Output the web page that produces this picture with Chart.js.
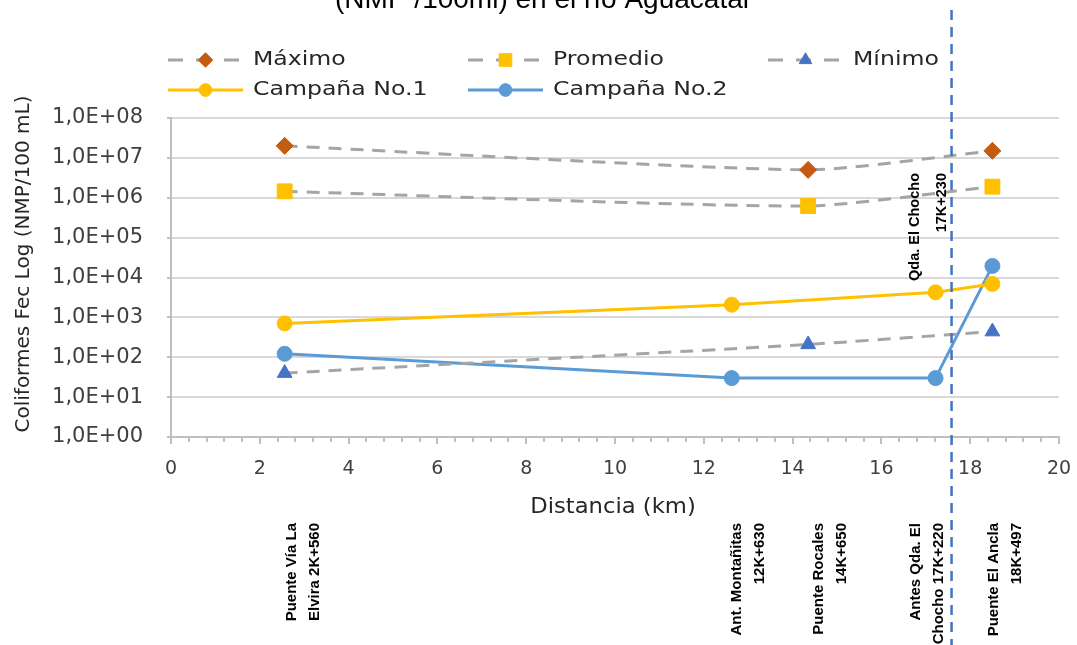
<!DOCTYPE html>
<html>
<head>
<meta charset="utf-8">
<script src="https://cdn.jsdelivr.net/npm/chart.js@4.4.1/dist/chart.umd.min.js"></script>
<style>
  html, body { margin: 0; padding: 0; background: #fff; }
</style>
</head>
<body>
<canvas id="coliChart" width="1077" height="645"></canvas>
<script>
// distancias (km) de cada estación
const campanaKm = [2.56, 12.63, 17.22, 18.5];
const estadisticaKm = [2.56, 14.35, 18.5];

// NMP/100 mL
const maximo = [2.0e7, 5.0e6, 1.5e7];
const promedio = [1.45e6, 6.2e5, 1.9e6];
const minimo = [40, 210, 440];
const campana1 = [706, 2080, 4250, 6900];
const campana2 = [122, 30, 30, 1.95e4];

const yPotencias = [0, 1, 2, 3, 4, 5, 6, 7, 8];

const estaciones = [
  ['Puente Vía La', 'Elvira 2K+560'],
  ['Ant. Montañitas', '12K+630'],
  ['Puente Rocales', '14K+650'],
  ['Antes Qda. El', 'Chocho 17K+220'],
  ['Puente El Ancla', '18K+497']
];
const estacionLabelKm = [2.98, 13.0, 14.86, 17.03, 18.8];

const quebradaKm = 17.58;
const quebradaLabel = ['Qda. El Chocho', '17K+230'];

const titulo = '(NMP /100ml) en el río Aguacatal';

const toPoints = (xs, ys) => xs.map((x, i) => ({ x: x, y: ys[i] }));

const GRIS = '#A5A5A5';
const FONT = '"DejaVu Sans", sans-serif';

const datasets = [
  {
    label: 'Máximo', data: toPoints(estadisticaKm, maximo),
    borderColor: GRIS, borderWidth: 3, borderDash: [13, 9], tension: 0.2,
    pointStyle: 'rectRot', pointRadius: 8.5, pointBackgroundColor: '#C55A11', pointBorderColor: '#C55A11', pointBorderWidth: 1
  },
  {
    label: 'Promedio', data: toPoints(estadisticaKm, promedio),
    borderColor: GRIS, borderWidth: 3, borderDash: [13, 9], tension: 0.2,
    pointStyle: 'rect', pointRadius: 10.5, pointBackgroundColor: '#FFC000', pointBorderColor: '#FFC000', pointBorderWidth: 1
  },
  {
    label: 'Mínimo', data: toPoints(estadisticaKm, minimo),
    borderColor: GRIS, borderWidth: 3, borderDash: [13, 9], tension: 0.2,
    pointStyle: 'triangle', pointRadius: 8.5, pointBackgroundColor: '#4472C4', pointBorderColor: '#4472C4', pointBorderWidth: 1
  },
  {
    label: 'Campaña No.1', data: toPoints(campanaKm, campana1),
    borderColor: '#FFC000', borderWidth: 3, tension: 0,
    pointStyle: 'circle', pointRadius: 7.5, pointBackgroundColor: '#FFC000', pointBorderColor: '#FFC000', pointBorderWidth: 1
  },
  {
    label: 'Campaña No.2', data: toPoints(campanaKm, campana2),
    borderColor: '#5B9BD5', borderWidth: 3, tension: 0,
    pointStyle: 'circle', pointRadius: 7.5, pointBackgroundColor: '#5B9BD5', pointBorderColor: '#5B9BD5', pointBorderWidth: 1
  }
];

function marker(ctx, ds, x, y) {
  ctx.save();
  ctx.setLineDash([]);
  ctx.fillStyle = ds.pointBackgroundColor;
  ctx.strokeStyle = ds.pointBorderColor;
  ctx.lineWidth = 1;
  Chart.helpers.drawPoint(ctx, { pointStyle: ds.pointStyle, radius: ds.pointRadius * 0.85, rotation: 0, borderWidth: 1 }, x, y);
  ctx.restore();
}

// texto con estiramiento horizontal (la fuente original es más ancha)
function wideText(ctx, text, x, y, sx) {
  ctx.save();
  ctx.translate(x, y);
  ctx.scale(sx, 1);
  ctx.fillText(text, 0, 0);
  ctx.restore();
}

const extras = {
  id: 'extras',
  afterDraw(chart) {
    const ctx = chart.ctx;
    const xs = chart.scales.x;
    const area = chart.chartArea;

    // ticks menores del eje x
    ctx.save();
    ctx.strokeStyle = '#BFBFBF';
    ctx.lineWidth = 2;
    for (let k = 1; k < 50; k++) {
      if (k % 5 === 0) continue;
      const px = Math.round(xs.getPixelForValue(k * 0.4));
      ctx.beginPath();
      ctx.moveTo(px, area.bottom);
      ctx.lineTo(px, area.bottom + 5);
      ctx.stroke();
    }
    ctx.restore();

    // línea vertical Qda. El Chocho
    const qx = xs.getPixelForValue(quebradaKm);
    ctx.save();
    ctx.strokeStyle = '#4472C4';
    ctx.lineWidth = 2.5;
    ctx.setLineDash([10, 7]);
    ctx.beginPath();
    ctx.moveTo(qx, 10);
    ctx.lineTo(qx, 645);
    ctx.stroke();
    ctx.restore();

    ctx.save();
    ctx.fillStyle = '#000';
    ctx.font = 'bold 14.5px "Liberation Sans", Arial, sans-serif';
    ctx.textBaseline = 'middle';
    ctx.textAlign = 'right';
    [qx - 37, qx - 10].forEach((lx, i) => {
      ctx.save();
      ctx.translate(lx, 173);
      ctx.rotate(-Math.PI / 2);
      ctx.fillText(quebradaLabel[i], 0, 0);
      ctx.restore();
    });
    ctx.restore();

    // etiquetas de estaciones
    ctx.save();
    ctx.fillStyle = '#000';
    ctx.font = 'bold 15px "Liberation Sans", Arial, sans-serif';
    ctx.textBaseline = 'middle';
    ctx.textAlign = 'right';
    estaciones.forEach((lines, i) => {
      const cx = xs.getPixelForValue(estacionLabelKm[i]);
      lines.forEach((t, j) => {
        ctx.save();
        ctx.translate(cx - 11.5 + j * 23, 523);
        ctx.rotate(-Math.PI / 2);
        ctx.fillText(t, 0, 0);
        ctx.restore();
      });
    });
    ctx.restore();

    // título (cortado arriba)
    ctx.save();
    ctx.fillStyle = '#000';
    ctx.font = '28px "Liberation Sans", Arial, sans-serif';
    ctx.textAlign = 'center';
    ctx.textBaseline = 'alphabetic';
    ctx.fillText(titulo, 542, 8);
    ctx.restore();

    // títulos de ejes
    ctx.save();
    ctx.fillStyle = '#262626';
    ctx.font = '20px ' + FONT;
    ctx.textAlign = 'center';
    ctx.textBaseline = 'middle';
    ctx.translate(24, 264);
    ctx.rotate(-Math.PI / 2);
    ctx.fillText('Coliformes Fec Log (NMP/100 mL)', 0, 0);
    ctx.restore();

    ctx.save();
    ctx.fillStyle = '#262626';
    ctx.font = '21px ' + FONT;
    ctx.textAlign = 'center';
    ctx.textBaseline = 'middle';
    wideText(ctx, 'Distancia (km)', 613, 508, 1.08);
    ctx.restore();

    // leyenda
    chart.data.datasets.forEach((ds, i) => {
      const col = i % 3;
      const row = Math.floor(i / 3);
      const x0 = 168 + col * 300;
      const y0 = 60 + row * 30;
      ctx.save();
      ctx.strokeStyle = ds.borderColor;
      ctx.lineWidth = 3;
      if (ds.borderDash) ctx.setLineDash([15, 13]);
      ctx.beginPath();
      ctx.moveTo(x0, y0);
      ctx.lineTo(x0 + 75, y0);
      ctx.stroke();
      ctx.restore();
      marker(ctx, ds, x0 + 37.5, y0);
      ctx.save();
      ctx.fillStyle = '#262626';
      ctx.font = '20px ' + FONT;
      ctx.textAlign = 'left';
      ctx.textBaseline = 'middle';
      wideText(ctx, ds.label, x0 + 85, y0, 1.18);
      ctx.restore();
    });
  }
};

new Chart(document.getElementById('coliChart').getContext('2d'), {
  type: 'line',
  data: { datasets: datasets },
  options: {
    responsive: false,
    animation: false,
    layout: { padding: { top: 118, left: 0, right: 18, bottom: 0 } },
    plugins: {
      legend: { display: false },
      title: { display: false },
      tooltip: { enabled: false }
    },
    scales: {
      x: {
        type: 'linear',
        min: 0,
        max: 20,
        afterFit: s => { s.height = 208; s.paddingLeft = 0; s.paddingRight = 0; },
        ticks: {
          stepSize: 2,
          maxRotation: 0,
          padding: 14,
          color: '#404040',
          font: { family: FONT, size: 19 }
        },
        grid: { drawOnChartArea: false, tickLength: 7, tickColor: '#BFBFBF', lineWidth: 2 },
        border: { color: '#BFBFBF', width: 2 }
      },
      y: {
        type: 'logarithmic',
        min: 1,
        max: 1e8,
        afterFit: s => { s.width = 171; s.paddingTop = 0; s.paddingBottom = 0; },
        afterBuildTicks: s => { s.ticks = yPotencias.map(p => ({ value: Math.pow(10, p) })); },
        ticks: {
          padding: 24,
          color: '#404040',
          font: { family: FONT, size: 21 },
          callback: v => '1,0E+' + String(Math.round(Math.log10(v))).padStart(2, '0')
        },
        grid: { color: '#D9D9D9', lineWidth: 2, tickLength: 4, tickColor: '#BFBFBF' },
        border: { color: '#BFBFBF', width: 2 }
      }
    }
  },
  plugins: [extras]
});
</script>
</body>
</html>
